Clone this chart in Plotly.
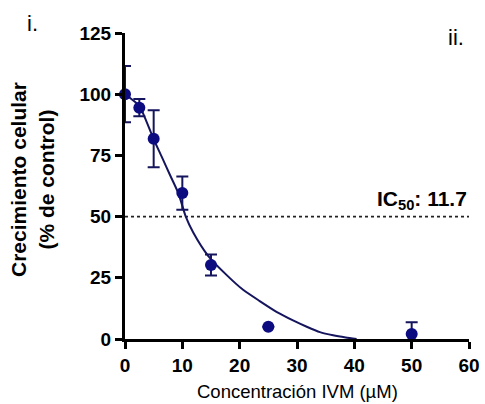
import plotly.graph_objects as go

# measured data
conc = [0, 2.5, 5, 10, 15, 25, 50]
growth = [100, 94.5, 81.8, 59.6, 30.2, 5.0, 2.0]
err = [11.5, 3.5, 11.6, 6.8, 4.3, 0.0, 4.8]

# fitted curve
fit_x = [0, 2.5, 3.5, 5, 6.4, 7.85, 9.3, 10.6, 11.9, 14.5, 17.7, 20.6, 23.5, 26.5, 29.4, 31.7, 34, 36.3, 38.5, 40.4]
fit_y = [100, 95.3, 90.2, 81.6, 74.5, 67, 59.6, 50, 43.5, 34, 26.2, 20.1, 15.5, 11, 7.5, 5, 2.8, 1.5, 0.6, 0]

ic50_level = 50
xticks = [0, 10, 20, 30, 40, 50, 60]
yticks = [0, 25, 50, 75, 100, 125]

FONT = "Arial, 'Liberation Sans', sans-serif"
NAVY = "#0c0c80"
CURVE = "#15155e"

fig = go.Figure()
fig.add_trace(go.Scatter(x=[0, 60], y=[ic50_level, ic50_level], mode="lines",
                         line=dict(color="#222", width=1.8, dash="dot"),
                         hoverinfo="skip", showlegend=False))
fig.add_trace(go.Scatter(x=fit_x, y=fit_y, mode="lines",
                         line=dict(color=CURVE, width=2, shape="spline", smoothing=0.6),
                         showlegend=False, cliponaxis=False))
fig.add_trace(go.Scatter(x=conc, y=growth, mode="markers",
                         marker=dict(color=NAVY, size=12),
                         error_y=dict(type="data", array=err, visible=True, color=CURVE, thickness=2, width=6),
                         showlegend=False, cliponaxis=False))

fig.update_layout(
    width=485, height=404,
    margin=dict(l=125, r=16, t=33, b=65, autoexpand=False),
    paper_bgcolor="white", plot_bgcolor="white",
    font=dict(family=FONT, color="black"),
    xaxis=dict(range=[0, 60], tickvals=xticks, showgrid=False, zeroline=False,
               showline=True, linecolor="black", linewidth=3,
               ticks="outside", ticklen=7, tickwidth=3, tickcolor="black",
               ticklabeloverflow="allow", automargin=False,
               tickfont=dict(size=19, family=FONT, weight="bold")),
    yaxis=dict(range=[0, 125], tickvals=yticks, showgrid=False, zeroline=False,
               showline=True, linecolor="black", linewidth=3,
               ticks="outside", ticklen=7, tickwidth=3, tickcolor="black",
               automargin=False,
               tickfont=dict(size=19, family=FONT, weight="bold")),
    annotations=[
        dict(text="Concentración IVM (µM)", xref="paper", yref="paper",
             x=0.5, y=-0.17, xanchor="center", yanchor="middle", showarrow=False,
             font=dict(size=18.5, family=FONT)),
        dict(text="<b>Crecimiento celular<br>(% de control)</b>", xref="paper", yref="paper",
             x=-0.27, y=0.52, xanchor="center", yanchor="middle", textangle=-90, showarrow=False,
             font=dict(size=21, family=FONT)),
        dict(text="<b>IC<sub>50</sub>: 11.7</b>", xref="x", yref="y", x=60, y=ic50_level,
             xanchor="right", yanchor="bottom", yshift=2, showarrow=False,
             font=dict(size=21, family=FONT)),
        dict(text="i.", xref="paper", yref="paper", x=-0.27, y=1.03,
             xanchor="center", yanchor="middle", showarrow=False, font=dict(size=22, family=FONT)),
        dict(text="ii.", xref="paper", yref="paper", x=0.99, y=0.984,
             xanchor="right", yanchor="middle", showarrow=False, font=dict(size=22, family=FONT)),
    ],
)

fig.write_html("out.html")
